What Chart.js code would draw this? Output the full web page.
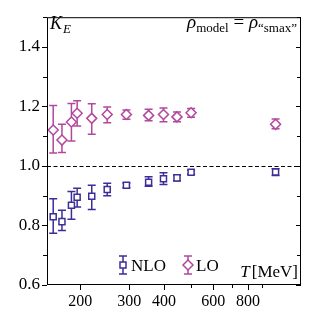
<!DOCTYPE html>
<html>
<head>
<meta charset="utf-8">
<script src="https://cdn.jsdelivr.net/npm/chart.js@4.4.1/dist/chart.umd.min.js"></script>
<style>
html, body { margin: 0; padding: 0; background: #fff; }
#wrap { width: 317px; height: 317px; }
</style>
</head>
<body>
<div id="wrap"><canvas id="myChart" width="317" height="317"></canvas></div>
<script>
// temperatures in MeV
const temps = [160, 172, 186, 195, 220, 250, 293, 352, 398, 445, 500, 1005];
// LO
const loVals = [1.121, 1.087, 1.148, 1.177, 1.160, 1.173, 1.173, 1.170, 1.173, 1.165, 1.179, 1.140];
const loLow  = [1.044, 1.045, 1.084, 1.134, 1.107, 1.145, 1.157, 1.152, 1.149, 1.149, 1.164, 1.125];
const loHigh = [1.203, 1.140, 1.210, 1.219, 1.209, 1.198, 1.188, 1.191, 1.195, 1.181, 1.193, 1.158];
// NLO
const nloVals = [0.829, 0.813, 0.868, 0.895, 0.898, 0.921, 0.935, 0.945, 0.957, 0.960, 0.979, 0.980];
const nloLow  = [0.774, 0.783, 0.821, 0.862, 0.854, 0.900, 0.927, 0.932, 0.938, 0.950, 0.972, 0.968];
const nloHigh = [0.890, 0.851, 0.914, 0.925, 0.935, 0.942, 0.943, 0.964, 0.977, 0.970, 0.986, 0.991];
// axes
const xTickVals = [200, 300, 400, 500, 600, 700, 800, 900];
const xTickLabels = ["200", "300", "400", "", "600", "", "800", ""];
const yTickVals = [0.6, 0.7, 0.8, 0.9, 1.0, 1.1, 1.2, 1.3, 1.4, 1.5];
const yTickLabels = ["0.6", "", "0.8", "", "1.0", "", "1.2", "", "1.4", ""];
const refLevel = 1.0;

const nloColor = "#3d2e97";
const loColor = "#b3479e";
const serif = "'Liberation Serif', 'DejaVu Serif', serif";

function pts(vals) {
  return temps.map((t, i) => ({ x: t, y: vals[i] }));
}

// error bars, frame, ticks, labels
const extras = {
  id: "extras",
  beforeDatasetsDraw(chart) {
    const ctx = chart.ctx;
    const xs = chart.scales.x, ys = chart.scales.y;
    const a = chart.chartArea;
    ctx.save();
    // dashed line at 1
    ctx.strokeStyle = "#000";
    ctx.lineWidth = 1;
    ctx.setLineDash([4, 2.5]);
    const yr = Math.round(ys.getPixelForValue(refLevel)) + 0.5;
    ctx.beginPath();
    ctx.moveTo(a.left, yr);
    ctx.lineTo(a.right, yr);
    ctx.stroke();
    ctx.setLineDash([]);
    // error bars
    const bars = [[nloLow, nloHigh, nloColor], [loLow, loHigh, loColor]];
    bars.forEach(b => {
      ctx.strokeStyle = b[2];
      ctx.lineWidth = 1.5;
      temps.forEach((t, i) => {
        const x = xs.getPixelForValue(t);
        const y1 = ys.getPixelForValue(b[0][i]);
        const y2 = ys.getPixelForValue(b[1][i]);
        ctx.beginPath();
        ctx.moveTo(x, y1); ctx.lineTo(x, y2);
        ctx.moveTo(x - 4, y1); ctx.lineTo(x + 4, y1);
        ctx.moveTo(x - 4, y2); ctx.lineTo(x + 4, y2);
        ctx.stroke();
      });
    });
    ctx.restore();
  },
  afterDraw(chart) {
    const ctx = chart.ctx;
    const xs = chart.scales.x, ys = chart.scales.y;
    const a = chart.chartArea;
    ctx.save();
    ctx.strokeStyle = "#000";
    ctx.lineWidth = 1;
    ctx.strokeRect(a.left + 0.5, a.top + 0.5, a.right - a.left - 1, a.bottom - a.top - 1);
    ctx.beginPath();
    yTickVals.forEach((v, i) => {
      const y = Math.round(ys.getPixelForValue(v)) + 0.5;
      const len = yTickLabels[i] ? 5 : 4;
      ctx.moveTo(a.left - len, y); ctx.lineTo(a.left, y);
      ctx.moveTo(a.right - len, y); ctx.lineTo(a.right, y);
    });
    xTickVals.forEach((v, i) => {
      const x = Math.round(xs.getPixelForValue(v)) + 0.5;
      const len = xTickLabels[i] ? 5 : 3;
      ctx.moveTo(x, a.bottom); ctx.lineTo(x, a.bottom + len);
    });
    ctx.stroke();

    // legend
    const ly = 265;
    const leg = [[123, nloColor, "rect", "NLO"], [188, loColor, "rectRot", "LO"]];
    leg.forEach(l => {
      ctx.strokeStyle = l[1];
      ctx.lineWidth = 1.5;
      ctx.beginPath();
      ctx.moveTo(l[0], ly - 9); ctx.lineTo(l[0], ly + 9);
      ctx.moveTo(l[0] - 4, ly - 9); ctx.lineTo(l[0] + 4, ly - 9);
      ctx.moveTo(l[0] - 4, ly + 9); ctx.lineTo(l[0] + 4, ly + 9);
      ctx.stroke();
      ctx.fillStyle = "#fff";
      Chart.helpers.drawPoint(ctx, { pointStyle: l[2], radius: l[2] === "rect" ? 4.25 : 5, borderWidth: 1.5, rotation: 0 }, l[0], ly);
      ctx.fillStyle = "#000";
      ctx.font = "17px " + serif;
      ctx.textBaseline = "alphabetic";
      ctx.textAlign = "left";
      ctx.fillText(l[3], l[0] + 8, ly + 6);
    });

    // T[MeV]
    ctx.fillStyle = "#000";
    ctx.font = "17px " + serif;
    const unit = "[MeV]";
    const uw = ctx.measureText(unit).width;
    ctx.fillText(unit, 298 - uw, 277);
    ctx.font = "italic 17px " + serif;
    const tw = ctx.measureText("T").width;
    ctx.fillText("T", 298 - uw - tw - 2, 277);

    // K_E
    ctx.font = "italic 18px " + serif;
    ctx.fillText("K", 50, 29);
    ctx.font = "italic 13px " + serif;
    ctx.fillText("E", 63, 33);

    // rho_model = rho_"smax"
    let x = 297;
    const base = 28;
    const parts = [
      ["\u201csmax\u201d", "13px " + serif, 4],
      ["\u03c1", "italic 19px " + serif, 0],
      [" = ", "19px " + serif, 0],
      ["model", "13px " + serif, 4],
      ["\u03c1", "italic 19px " + serif, 0]
    ];
    parts.forEach(p => {
      ctx.font = p[1];
      const w = ctx.measureText(p[0]).width;
      x -= w;
      ctx.fillText(p[0], x, base + p[2]);
    });
    ctx.restore();
  }
};

new Chart("myChart", {
  type: "scatter",
  data: {
    datasets: [{
      label: "NLO",
      data: pts(nloVals),
      pointStyle: "rect",
      pointRadius: 4.25,
      borderWidth: 1.5,
      borderColor: nloColor,
      backgroundColor: "#fff"
    }, {
      label: "LO",
      data: pts(loVals),
      pointStyle: "rectRot",
      pointRadius: 5,
      borderWidth: 1.5,
      borderColor: loColor,
      backgroundColor: "#fff"
    }]
  },
  options: {
    responsive: false,
    animation: false,
    devicePixelRatio: 1,
    layout: { padding: { left: 0, top: 15, right: 16, bottom: 0 } },
    plugins: { legend: { display: false }, tooltip: { enabled: false } },
    scales: {
      x: {
        type: "logarithmic",
        min: 152,
        max: 1240,
        afterBuildTicks: s => { s.ticks = xTickVals.map(v => ({ value: v })); },
        afterFit: s => { s.height = 32; },
        grid: { display: false, drawTicks: false },
        border: { display: false },
        ticks: {
          autoSkip: false,
          maxRotation: 0,
          padding: 7,
          color: "#000",
          font: { family: serif, size: 16 },
          callback: (v, i) => xTickLabels[i]
        }
      },
      y: {
        min: 0.6,
        max: 1.5,
        afterBuildTicks: s => { s.ticks = yTickVals.map(v => ({ value: v })); },
        afterFit: s => { s.width = 47; },
        grid: { display: false, drawTicks: false },
        border: { display: false },
        ticks: {
          autoSkip: false,
          padding: 7,
          color: "#000",
          font: { family: serif, size: 17 },
          callback: (v, i) => yTickLabels[i]
        }
      }
    }
  },
  plugins: [extras]
});
</script>
</body>
</html>
